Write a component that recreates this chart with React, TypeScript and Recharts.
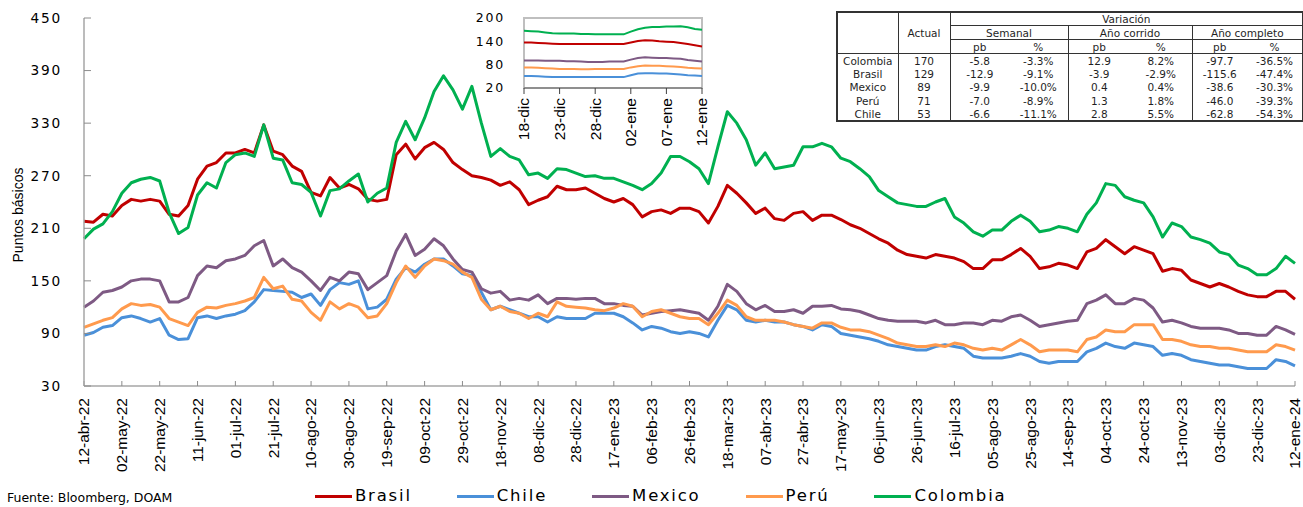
import { LineChart, Line, XAxis, YAxis, ReferenceArea } from 'recharts';

// main chart: one value every 5 days from 12-abr-22 (day 0) to 12-ene-24 (day 640)
const stepDays = 5;

const brasil = [
  218, 217, 226, 224, 236, 243, 241, 243, 241, 226, 224, 236, 266, 281, 285, 296, 296, 300, 296, 328, 298, 294,
  281, 275, 251, 247, 268, 256, 260, 255, 243, 241, 243, 294, 306, 289, 302, 308, 300, 285, 277, 270, 268,
  265, 259, 263, 254, 237, 242, 246, 258, 254, 254, 256, 250, 244, 240, 244, 237, 223, 229, 231, 227, 233,
  233, 229, 216, 235, 259, 250, 239, 227, 233, 221, 219, 227, 229, 219, 225, 225, 220, 214, 210, 204, 198, 193,
  185, 180, 178, 176, 180, 178, 176, 172, 164, 164, 174, 174, 180, 187, 178, 164, 166, 170, 168, 164,
  183, 187, 197, 189, 181, 189, 185, 181, 161, 164, 162, 151, 147, 143, 147, 143, 138, 134, 132, 132, 138, 138, 129,
];
const chile = [
  88, 91, 97, 99, 108, 110, 107, 103, 107, 88, 83, 84, 108, 110, 107, 110, 112, 116, 126, 140, 139, 138,
  137, 131, 135, 122, 140, 148, 146, 150, 118, 120, 129, 152, 165, 160, 169, 175, 175, 167, 158, 156, 137,
  117, 121, 117, 113, 109, 109, 103, 109, 107, 107, 107, 113, 113, 113, 109, 102, 94, 98, 96, 92, 90,
  92, 90, 86, 105, 122, 117, 105, 103, 105, 103, 103, 100, 98, 94, 100, 98, 90, 88, 86, 84, 81, 77,
  75, 73, 71, 71, 75, 77, 75, 73, 64, 62, 62, 62, 64, 67, 64, 58, 56, 58, 58, 58,
  69, 73, 79, 75, 73, 79, 77, 75, 65, 67, 65, 60, 58, 56, 54, 54, 52, 50, 50, 50, 60, 58, 53,
];
const mexico = [
  120, 127, 137, 139, 143, 150, 152, 152, 150, 126, 126, 131, 156, 167, 165, 173, 175, 179, 190, 196, 167, 175,
  165, 160, 150, 139, 154, 150, 160, 158, 140, 148, 156, 184, 203, 179, 186, 198, 190, 175, 163, 160, 141,
  136, 138, 128, 130, 128, 134, 124, 130, 130, 129, 130, 130, 124, 124, 122, 121, 111, 113, 115, 116, 117,
  115, 113, 105, 121, 146, 138, 124, 117, 122, 115, 115, 117, 113, 121, 121, 122, 118, 117, 115, 111, 107, 105,
  104, 104, 104, 102, 105, 100, 100, 102, 102, 100, 105, 104, 109, 111, 105, 98, 100, 102, 104, 105,
  124, 128, 134, 124, 124, 130, 128, 119, 103, 105, 102, 98, 96, 96, 96, 94, 90, 90, 88, 88, 98, 94, 89,
];
const peru = [
  97, 101, 105, 108, 118, 124, 122, 123, 120, 107, 103, 99, 114, 120, 119, 122, 124, 127, 131, 154, 141, 144,
  129, 127, 114, 105, 126, 118, 124, 120, 108, 110, 124, 148, 167, 154, 167, 175, 173, 169, 160, 154, 129,
  117, 121, 115, 113, 107, 113, 109, 126, 121, 120, 119, 117, 116, 119, 124, 121, 109, 115, 117, 113, 109,
  107, 107, 100, 113, 128, 122, 109, 105, 105, 105, 103, 100, 98, 96, 102, 102, 97, 94, 94, 92, 88, 84,
  79, 77, 75, 75, 77, 75, 79, 77, 73, 71, 73, 71, 77, 83, 77, 69, 71, 71, 71, 69,
  83, 86, 94, 92, 92, 100, 100, 100, 83, 83, 81, 77, 75, 75, 73, 73, 71, 69, 69, 69, 77, 75, 71,
];
const colombia = [
  198, 209, 215, 229, 250, 262, 266, 268, 264, 228, 204, 211, 248, 262, 256, 285, 294, 296, 292, 328, 290, 288,
  262, 260, 251, 224, 253, 255, 264, 272, 240, 250, 256, 308, 332, 311, 336, 366, 384, 368, 346, 372, 330,
  292, 301, 292, 288, 271, 273, 267, 278, 277, 273, 269, 270, 267, 267, 263, 259, 254, 261, 273, 292, 292,
  286, 278, 261, 303, 343, 330, 311, 282, 296, 278, 280, 282, 303, 303, 307, 303, 290, 286, 278, 269, 253, 246,
  239, 237, 235, 235, 240, 244, 223, 216, 206, 201, 208, 208, 218, 225, 218, 206, 208, 212, 210, 206,
  226, 239, 261, 259, 246, 242, 239, 223, 200, 216, 212, 200, 197, 193, 183, 180, 168, 164, 157, 157, 164, 178, 170,
];

const xTickLabels = [
  '12-abr-22', '02-may-22', '22-may-22', '11-jun-22', '01-jul-22', '21-jul-22', '10-ago-22', '30-ago-22',
  '19-sep-22', '09-oct-22', '29-oct-22', '18-nov-22', '08-dic-22', '28-dic-22', '17-ene-23', '06-feb-23',
  '26-feb-23', '18-mar-23', '07-abr-23', '27-abr-23', '17-may-23', '06-jun-23', '26-jun-23', '16-jul-23',
  '05-ago-23', '25-ago-23', '14-sep-23', '04-oct-23', '24-oct-23', '13-nov-23', '03-dic-23', '23-dic-23',
  '12-ene-24',
];
const xTickStep = 20;
const yTicks = [30, 90, 150, 210, 270, 330, 390, 450];

// inset: daily, 18-dic to 12-ene
const insetLabels = ['18-dic', '23-dic', '28-dic', '02-ene', '07-ene', '12-ene'];
const insetBrasil = [137, 137, 136, 135, 134, 133, 133, 133, 133, 133, 133, 133, 133, 133, 133, 137, 141, 143, 142, 140, 139, 138, 136, 133, 130, 127];
const insetChile = [51, 51, 50, 49, 48, 48, 48, 48, 48, 48, 48, 48, 48, 48, 48, 53, 57, 58, 58, 57, 57, 56, 55, 53, 52, 51];
const insetMexico = [91, 91, 91, 90, 90, 90, 89, 89, 88, 87, 87, 87, 88, 88, 88, 93, 97, 99, 98, 97, 97, 96, 95, 92, 90, 88];
const insetPeru = [73, 73, 72, 71, 70, 69, 69, 69, 68, 68, 69, 69, 69, 69, 69, 73, 76, 78, 77, 77, 76, 75, 74, 72, 71, 70];
const insetColombia = [167, 166, 165, 163, 161, 160, 160, 160, 159, 159, 158, 158, 158, 158, 158, 165, 171, 175, 177, 177, 178, 178, 179, 176, 172, 170];
const insetYTicks = [20, 80, 140, 200];

// table
const tableCountries = ['Colombia', 'Brasil', 'Mexico', 'Perú', 'Chile'];
const tableActual = ['170', '129', '89', '71', '53'];
const weeklyPb = ['-5.8', '-12.9', '-9.9', '-7.0', '-6.6'];
const weeklyPct = ['-3.3%', '-9.1%', '-10.0%', '-8.9%', '-11.1%'];
const ytdPb = ['12.9', '-3.9', '0.4', '1.3', '2.8'];
const ytdPct = ['8.2%', '-2.9%', '0.4%', '1.8%', '5.5%'];
const yearPb = ['-97.7', '-115.6', '-38.6', '-46.0', '-62.8'];
const yearPct = ['-36.5%', '-47.4%', '-30.3%', '-39.3%', '-54.3%'];
const periodHeaders = ['Semanal', 'Año corrido', 'Año completo'];

const series = [
  { key: 'brasil', name: 'Brasil', color: '#C00000' },
  { key: 'chile', name: 'Chile', color: '#4A90D9' },
  { key: 'mexico', name: 'Mexico', color: '#7E5A84' },
  { key: 'peru', name: 'Perú', color: '#FF9A4D' },
  { key: 'colombia', name: 'Colombia', color: '#00B050' },
];

const mainData = brasil.map((v, i) => ({
  d: i * stepDays,
  brasil: v,
  chile: chile[i],
  mexico: mexico[i],
  peru: peru[i],
  colombia: colombia[i],
}));

const insetData = insetBrasil.map((v, i) => ({
  d: i,
  brasil: v,
  chile: insetChile[i],
  mexico: insetMexico[i],
  peru: insetPeru[i],
  colombia: insetColombia[i],
}));

const xTicks = xTickLabels.map((_, i) => i * xTickStep);

const RotatedTick = (props: any) => {
  const { x, y, payload, fmt } = props;
  return (
    <text
      x={x}
      y={y}
      transform={`rotate(-90, ${x}, ${y})`}
      textAnchor="end"
      dy="0.35em"
      fill="#000"
      fontFamily="Liberation Sans"
      fontSize={15.5}
    >
      {fmt(payload.value)}
    </text>
  );
};

const bl = '1.5px solid #333';
const cellBase: React.CSSProperties = { padding: 0, textAlign: 'center', lineHeight: '12px', whiteSpace: 'nowrap' };
const colWidths = [61, 52, 59, 59, 62, 62, 55, 56];

function SummaryTable() {
  const rows = tableCountries.map((c, i) => [
    c, tableActual[i], weeklyPb[i], weeklyPct[i], ytdPb[i], ytdPct[i], yearPb[i], yearPct[i],
  ]);
  return (
    <table
      style={{
        position: 'absolute', left: 836, top: 11, width: 466, borderCollapse: 'collapse',
        tableLayout: 'fixed', border: '2px solid #333', fontFamily: 'DejaVu Sans', fontSize: 10.5,
        color: '#1f1f1f', background: '#fff',
      }}
    >
      <colgroup>
        {colWidths.map((w, i) => <col key={i} style={{ width: w }} />)}
      </colgroup>
      <tbody>
        <tr style={{ height: 12 }}>
          <td rowSpan={3} style={{ ...cellBase, borderRight: bl, borderBottom: bl }} />
          <td rowSpan={3} style={{ ...cellBase, borderRight: bl, borderBottom: bl }}>Actual</td>
          <td colSpan={6} style={{ ...cellBase, borderBottom: bl }}>Variación</td>
        </tr>
        <tr style={{ height: 14 }}>
          {periodHeaders.map((h, i) => (
            <td key={h} colSpan={2} style={{ ...cellBase, borderBottom: bl, borderRight: i < 2 ? bl : undefined }}>{h}</td>
          ))}
        </tr>
        <tr style={{ height: 14 }}>
          {periodHeaders.flatMap((h, i) => [
            <td key={h + 'pb'} style={{ ...cellBase, borderBottom: bl }}>pb</td>,
            <td key={h + 'pc'} style={{ ...cellBase, borderBottom: bl, borderRight: i < 2 ? bl : undefined }}>%</td>,
          ])}
        </tr>
        {rows.map((r) => (
          <tr key={r[0]} style={{ height: 13.5 }}>
            {r.map((v, j) => (
              <td
                key={j}
                style={{ ...cellBase, borderRight: j === 0 || j === 1 || j === 3 || j === 5 ? bl : undefined }}
              >
                {v}
              </td>
            ))}
          </tr>
        ))}
      </tbody>
    </table>
  );
}

export default function App() {
  return (
    <div style={{ position: 'absolute', left: 0, top: 0, width: 1303, height: 507, overflow: 'hidden', background: '#fff' }}>
      <LineChart width={1303} height={507} data={mainData} margin={{ top: 18, right: 8, bottom: 0, left: 0 }}>
        <XAxis
          dataKey="d"
          type="number"
          domain={[0, 640]}
          ticks={xTicks}
          interval={0}
          height={121}
          tickSize={-5}
          tickMargin={17}
          axisLine={{ stroke: '#a6a6a6', strokeWidth: 1.5 }}
          tickLine={{ stroke: '#8c8c8c' }}
          tick={<RotatedTick fmt={(v: number) => xTickLabels[Math.round(v / xTickStep)]} />}
        />
        <YAxis
          domain={[30, 450]}
          ticks={yTicks}
          interval={0}
          width={84}
          tickSize={-7}
          tickMargin={29}
          axisLine={{ stroke: '#a6a6a6', strokeWidth: 1.5 }}
          tickLine={{ stroke: '#8c8c8c' }}
          tick={{ fill: '#000', fontFamily: 'DejaVu Sans', fontSize: 13.7, letterSpacing: 1.8 }}
        />
        {series.map((s) => (
          <Line
            key={s.key}
            dataKey={s.key}
            type="linear"
            stroke={s.color}
            strokeWidth={3}
            strokeLinejoin="round"
            dot={false}
            isAnimationActive={false}
          />
        ))}
      </LineChart>

      <div style={{ position: 'absolute', left: 464, top: 8 }}>
        <LineChart width={250} height={140} data={insetData} margin={{ top: 10, right: 12, bottom: 0, left: 0 }}>
          <ReferenceArea x1={0} x2={25} y1={20} y2={200} fill="#fff" fillOpacity={0} stroke="#bfbfbf" strokeWidth={2} />
          <XAxis
            dataKey="d"
            type="number"
            domain={[0, 25]}
            ticks={[0, 5, 10, 15, 20, 25]}
            interval={0}
            height={60}
            tickSize={6}
            tickMargin={4}
            axisLine={{ stroke: '#7f7f7f', strokeWidth: 1.5 }}
            tickLine={{ stroke: '#404040' }}
            tick={<RotatedTick fmt={(v: number) => insetLabels[Math.round(v / 5)]} />}
          />
          <YAxis
            domain={[20, 200]}
            ticks={insetYTicks}
            interval={0}
            width={60}
            axisLine={false}
            tickLine={false}
            tickSize={0}
            tickMargin={19}
            tick={{ fill: '#000', fontFamily: 'DejaVu Sans', fontSize: 12.5, letterSpacing: 1.8 }}
          />
          {series.map((s) => (
            <Line
              key={s.key}
              dataKey={s.key}
              type="linear"
              stroke={s.color}
              strokeWidth={2}
              dot={false}
              isAnimationActive={false}
            />
          ))}
        </LineChart>
      </div>

      <SummaryTable />

      <div
        style={{
          position: 'absolute', left: 18, top: 215, transform: 'translate(-50%, -50%) rotate(-90deg)',
          fontFamily: 'Liberation Sans', fontSize: 14, whiteSpace: 'nowrap', color: '#000',
        }}
      >
        Puntos básicos
      </div>

      <div style={{ position: 'absolute', left: 315, top: 485, display: 'flex', gap: 45, alignItems: 'center' }}>
        {series.map((s) => (
          <div key={s.key} style={{ display: 'flex', alignItems: 'center', gap: 3 }}>
            <span style={{ display: 'inline-block', width: 37, height: 3, background: s.color }} />
            <span style={{ fontFamily: 'DejaVu Sans', fontSize: 16.5, letterSpacing: 1.8, lineHeight: '22px', color: '#000' }}>
              {s.name}
            </span>
          </div>
        ))}
      </div>

      <div
        style={{
          position: 'absolute', left: 7, top: 491, fontFamily: 'DejaVu Sans', fontSize: 12.5,
          lineHeight: '14px', color: '#000', whiteSpace: 'nowrap',
        }}
      >
        Fuente: Bloomberg, DOAM
      </div>
    </div>
  );
}
